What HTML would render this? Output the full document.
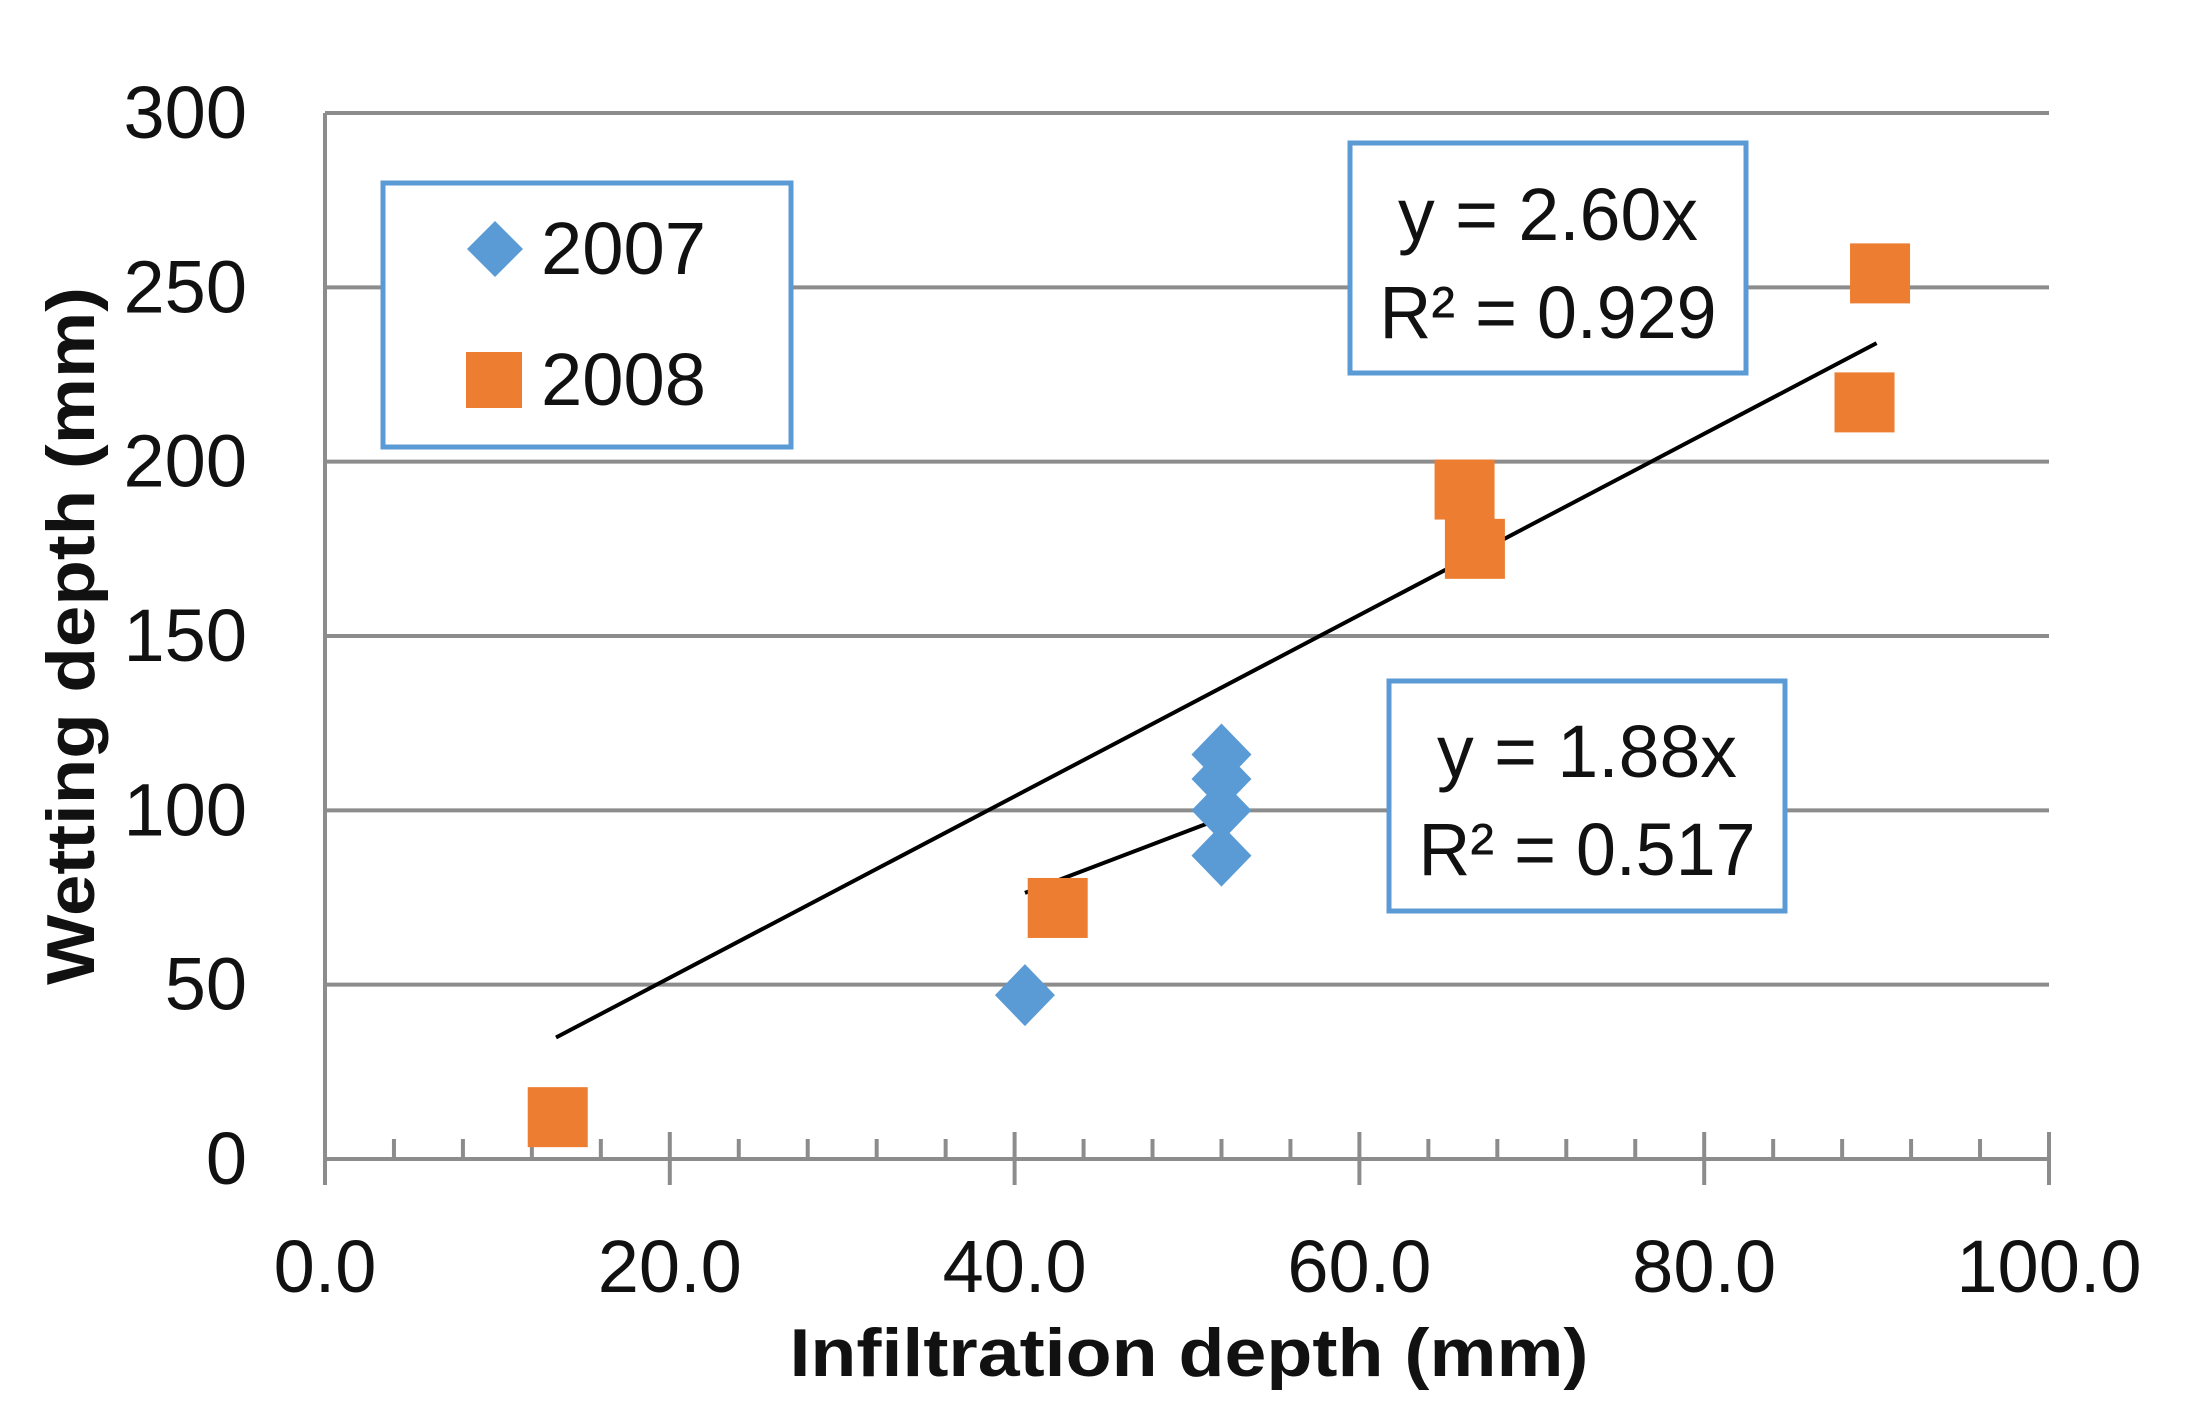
<!DOCTYPE html>
<html><head><meta charset="utf-8"><style>
html,body{margin:0;padding:0;background:#fff;}
svg{display:block;font-family:"Liberation Sans",sans-serif;}
</style></head><body>
<svg id="chart" width="2188" height="1402" viewBox="0 0 2188 1402" xmlns="http://www.w3.org/2000/svg">
<g id="grid"></g>
<g id="axes"></g>
<g id="trend"></g>
<g id="marks"></g>
<text transform="translate(94,636) rotate(-90)" text-anchor="middle" font-size="68" font-weight="bold" fill="#111" textLength="698" lengthAdjust="spacingAndGlyphs">Wetting depth (mm)</text>
<text x="1189" y="1376" text-anchor="middle" font-size="68" font-weight="bold" fill="#111" textLength="799" lengthAdjust="spacingAndGlyphs">Infiltration depth (mm)</text>
<g>
<rect x="383" y="183" width="408" height="264" fill="#fff" stroke="#5b9bd5" stroke-width="5"/>
<g>
<polygon points="495,221 523,249 495,277 467,249" fill="#5b9bd5"/>
<text x="541" y="274" font-size="74" fill="#111" textLength="165" lengthAdjust="spacingAndGlyphs">2007</text></g>
<g>
<rect x="466" y="352" width="56" height="56" fill="#ed7d31"/>
<text x="541" y="405" font-size="74" fill="#111" textLength="165" lengthAdjust="spacingAndGlyphs">2008</text></g>
</g>
<g>
<rect x="1350" y="143" width="396" height="230" fill="#fff" stroke="#5b9bd5" stroke-width="5"/>
<text x="1548" y="240" text-anchor="middle" font-size="74" fill="#111" textLength="300" lengthAdjust="spacingAndGlyphs">y = 2.60x</text>
<text x="1548" y="338" text-anchor="middle" font-size="74" fill="#111" textLength="337" lengthAdjust="spacingAndGlyphs">R² = 0.929</text>
</g>
<g>
<rect x="1389" y="681" width="396" height="230" fill="#fff" stroke="#5b9bd5" stroke-width="5"/>
<text x="1587" y="777" text-anchor="middle" font-size="74" fill="#111" textLength="300" lengthAdjust="spacingAndGlyphs">y = 1.88x</text>
<text x="1587" y="875" text-anchor="middle" font-size="74" fill="#111" textLength="337" lengthAdjust="spacingAndGlyphs">R² = 0.517</text>
</g>
</svg>
<script>
const xTicks=[0,20,40,60,80,100];
const xTickLabels=["0.0","20.0","40.0","60.0","80.0","100.0"];
const yTicks=[0,50,100,150,200,250,300];
const x2007=[40.6,52,52,52,52];
const y2007=[47,116,109,100,87];
const x2008=[13.5,42.5,66.1,66.7,90.2,89.3];
const y2008=[12,72,192,175,254,217];
const slope2007=1.88, range2007=[40.6,52];
const slope2008=2.60, range2008=[13.4,90];

const NS="http://www.w3.org/2000/svg";
const L=325,R=2049,B=1159,T=113;
const sx=v=>L+(R-L)*v/100;
const sy=v=>B-(B-T)*v/300;
function mk(tag,attrs,parent){const e=document.createElementNS(NS,tag);for(const k in attrs)e.setAttribute(k,attrs[k]);parent.appendChild(e);return e;}
const grid=document.getElementById('grid'),axes=document.getElementById('axes'),trend=document.getElementById('trend'),marks=document.getElementById('marks');
yTicks.forEach(v=>{
  if(v>0){const g=mk('line',{x1:L,x2:R,y1:sy(v),y2:sy(v),stroke:'#8c8c8c','stroke-width':4},grid);
  
  }
  const t=mk('text',{x:247,y:sy(v)+25,'text-anchor':'end','font-size':74,fill:'#111'},axes);
  t.textContent=v;
  
  
});
const ax=mk('line',{x1:L,x2:R,y1:B,y2:B,stroke:'#8c8c8c','stroke-width':4},axes);


const ay=mk('line',{x1:L,x2:L,y1:T,y2:B,stroke:'#8c8c8c','stroke-width':4},axes);


for(let v=0;v<=100;v+=4){
  const major=v%20===0;
  const tk=mk('line',{x1:sx(v),x2:sx(v),y1:major?B-27:B-20,y2:major?B+26:B,stroke:'#8c8c8c','stroke-width':4},axes);
  
  
}
xTicks.forEach((v,i)=>{
  const t=mk('text',{x:sx(v),y:1292,'text-anchor':'middle','font-size':74,fill:'#111'},axes);
  t.textContent=xTickLabels[i];
  
  
});
function tl(s,r,name){const l=mk('line',{x1:sx(r[0]),y1:sy(s*r[0]),x2:sx(r[1]),y2:sy(s*r[1]),stroke:'#000','stroke-width':4},trend);
  
  }
tl(slope2008,range2008,'trendline-2008');
tl(slope2007,range2007,'trendline-2007');
x2007.forEach((x,i)=>{const cx=sx(x),cy=sy(y2007[i]);
  const p=mk('polygon',{points:`${cx},${cy-31} ${cx+30},${cy} ${cx},${cy+31} ${cx-30},${cy}`,fill:'#5b9bd5'},marks);
  
  });
x2008.forEach((x,i)=>{const cx=sx(x),cy=sy(y2008[i]);
  const p=mk('rect',{x:cx-30,y:cy-30,width:60,height:60,fill:'#ed7d31'},marks);
  
  });
</script>
</body></html>
